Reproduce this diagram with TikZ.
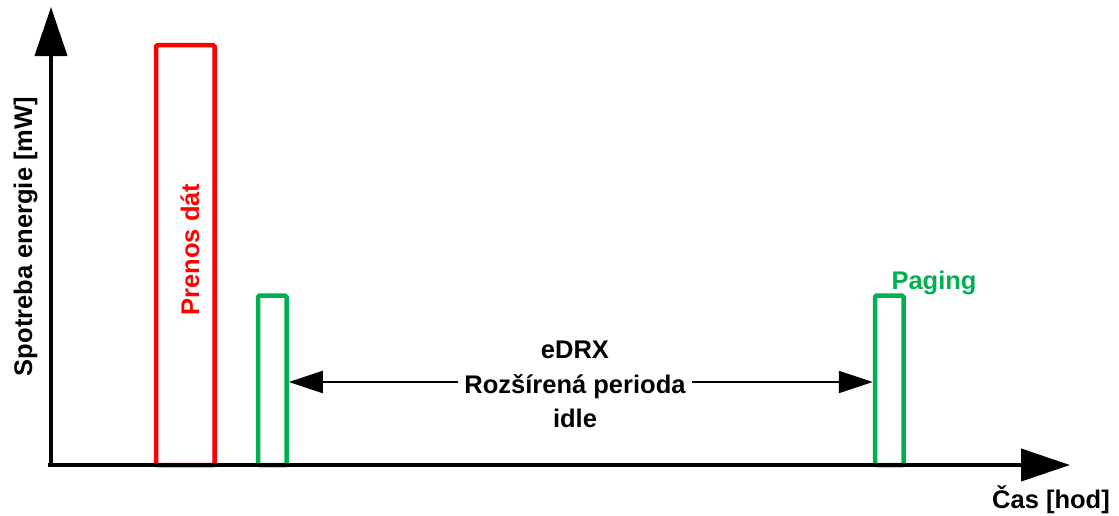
\documentclass[tikz,border=0pt]{standalone}
\usepackage{fontspec}
\setmainfont{Liberation Sans}
\usetikzlibrary{arrows.meta}
\definecolor{myred}{HTML}{FF0000}
\definecolor{mygreen}{HTML}{00B050}
\tikzset{
  lbl/.style={font=\fontsize{25.5}{30}\selectfont\bfseries, inner sep=0pt},
  axisline/.style={line width=4pt, -{Triangle[length=49pt,width=32pt]}},
  bar/.style={draw, line width=4.5pt, rounded corners=1.5pt, inner sep=0pt, anchor=south west},
  redbar/.style={bar, draw=myred},
  greenbar/.style={bar, draw=mygreen},
  dblarrow/.style={line width=2pt, -{Triangle[length=34pt,width=22pt]}},
}
\begin{document}
\begin{tikzpicture}[x=1pt,y=-1pt]
\useasboundingbox (0,0) rectangle (1119,515);
% bars
\node[redbar, minimum width=58.5pt, minimum height=420pt] (tx) at (153.75,467.25) {};
\node[greenbar, minimum width=28.5pt, minimum height=169.5pt] (g1) at (255.75,467.25) {};
\node[greenbar, minimum width=28.5pt, minimum height=169.5pt] (g2) at (872.75,467.25) {};
% axes
\coordinate (xs) at (48,465);
\coordinate (xe) at (1070,465);
\coordinate (ys) at (51,467);
\coordinate (ye) at (51,7);
\draw[axisline] (xs) -- (xe);
\draw[axisline] (ys) -- (ye);
% labels
\node[lbl, rotate=90, anchor=base] (ylab) at (32,236.5) {Spotreba energie [mW]};
\node[lbl, anchor=base] (xlab) at (1051,508) {Čas [hod]};
\node[lbl, rotate=90, anchor=base, text=myred] (txlab) at (199,249.5) {Prenos dát};
\node[lbl, anchor=base, text=mygreen] (paging) at (934,289) {Paging};
\node[lbl, anchor=base] (edrx) at (575,358) {eDRX};
\node[lbl, anchor=base, inner xsep=6pt] (per) at (575,393) {Rozšírená perioda};
\node[lbl, anchor=base] (idle) at (575,427) {idle};
% double arrow
\coordinate (ay) at (0,382);
\draw[dblarrow] (per.west |- ay) -- (g1.east |- ay);
\draw[dblarrow] (per.east |- ay) -- (g2.west |- ay);
\end{tikzpicture}
\end{document}
